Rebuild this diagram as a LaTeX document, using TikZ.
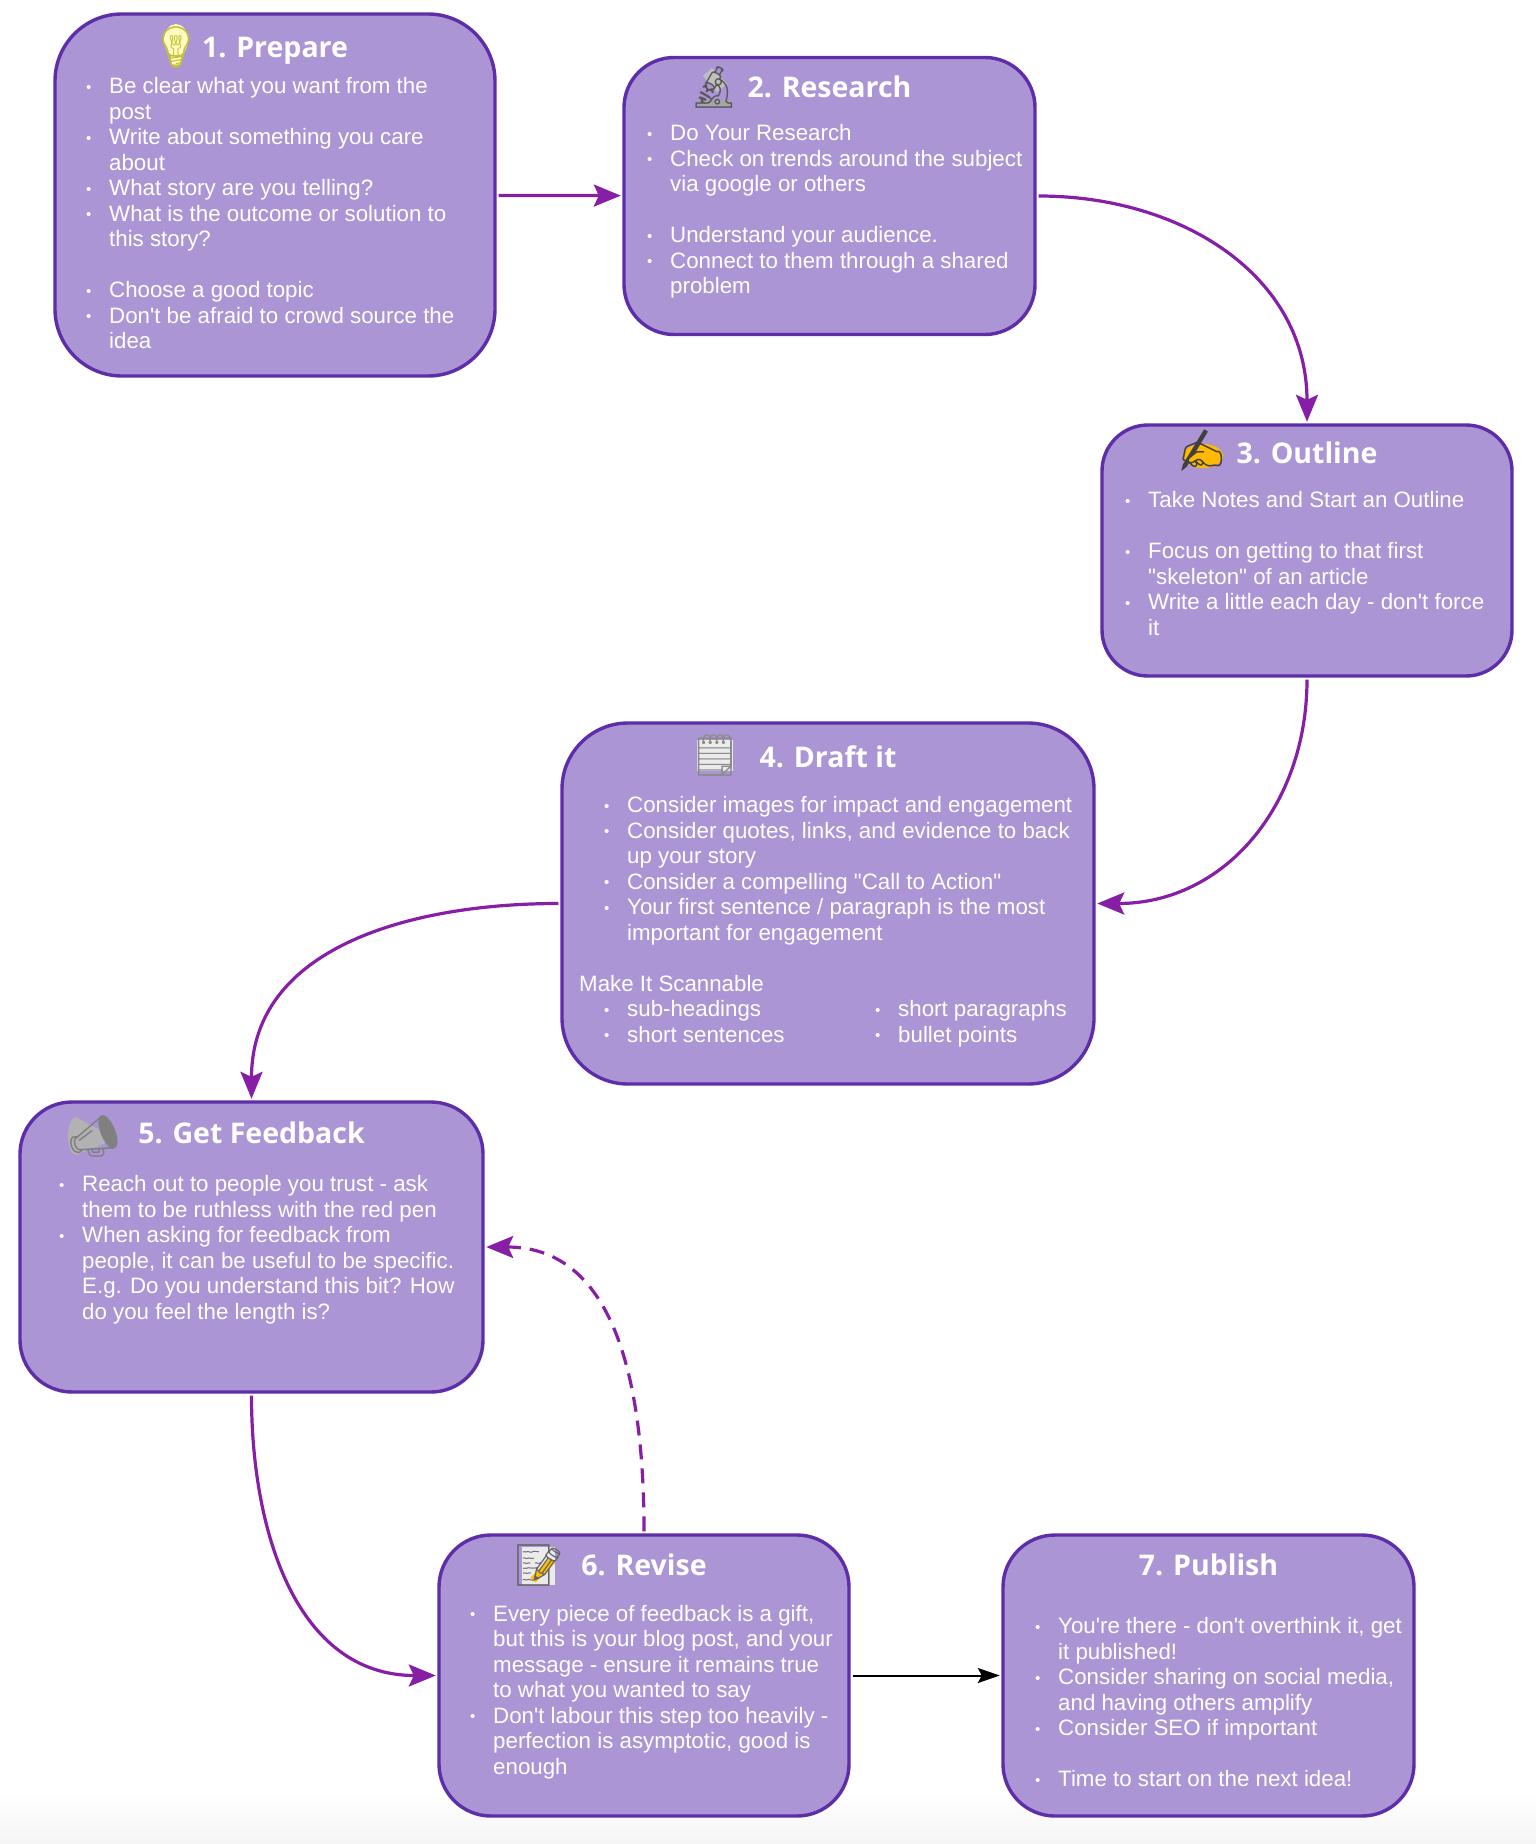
\documentclass[tikz,border=0pt]{standalone}
\usepackage{fontspec}
\newfontfamily\bodyfont{Liberation Sans}
\newfontfamily\headfont{Open Sans}
\newfontfamily\emojifont{Noto Emoji}
\usetikzlibrary{arrows.meta,positioning}
\definecolor{boxfill}{HTML}{AB95D4}
\definecolor{boxedge}{HTML}{5E2DA8}
\definecolor{linkline}{HTML}{861FA6}
\newcommand{\bdot}{\raisebox{1.5pt}{\fontsize{15}{15}\selectfont •}}
\newenvironment{steplist}{\begin{tabular}{@{}p{23pt}@{}l@{}}}{\end{tabular}}
\tikzset{
	stepbox/.style={rectangle,draw=boxedge,fill=boxfill,line width=3.4pt,rounded corners=#1},
	heading/.style={text=white,font=\headfont\bfseries\fontsize{28.5}{32}\selectfont,inner sep=0pt},
	iconmark/.style={font=\emojifont\fontsize{41}{45}\selectfont,inner sep=0pt},
	bodytext/.style={text=white,font=\bodyfont\fontsize{22.3}{25.5}\selectfont,inner sep=0pt,anchor=north west},
	link/.style={draw=linkline,line width=3.2pt,looseness=1.06,shorten <=2pt,shorten >=1.5pt,-{Stealth[length=27pt,width=22pt,inset=5pt]}},
	plainlink/.style={draw=black,line width=2pt,shorten <=2pt,shorten >=1.5pt,-{Stealth[length=22pt,width=15pt,inset=4pt]}}
}
\begin{document}
\begin{tikzpicture}[x=1pt,y=-1pt]
	\useasboundingbox (0,0) rectangle (1536,1844);
	\shade[top color=white,bottom color=black!4] (0,1790) rectangle (1536,1844);
	\node[stepbox=67pt,minimum width=440pt,minimum height=362pt] (box1) at (275,195) {};
	\node[stepbox=50pt,minimum width=411pt,minimum height=277pt] (box2) at (829.5,196) {};
	\node[stepbox=46pt,minimum width=410pt,minimum height=251pt] (box3) at (1307,550.5) {};
	\node[stepbox=66pt,minimum width=532pt,minimum height=361pt] (box4) at (828,903.5) {};
	\node[stepbox=52pt,minimum width=463pt,minimum height=290pt] (box5) at (251.5,1247) {};
	\node[stepbox=52pt,minimum width=410pt,minimum height=281pt] (box6) at (644,1675.5) {};
	\node[stepbox=52pt,minimum width=411pt,minimum height=281pt] (box7) at (1208.5,1675.5) {};
	\node[heading] (head1) at (275,51) {1. Prepare};
	\node[heading] (head2) at (829.5,87) {2. Research};
	\node[heading] (head3) at (1307,453) {3. Outline};
	\node[heading] (head4) at (828,757) {4. Draft it};
	\node[heading] (head5) at (251.5,1133) {5. Get Feedback};
	\node[heading] (head6) at (644,1565) {6. Revise};
	\node[heading] (head7) at (1208.5,1565) {7. Publish};
	\fill[yellow!25] (176,40) ellipse (12 and 16);
	\fill[yellow!25] (170,50) -- (182,50) -- (180,66) -- (172,66) -- cycle;
	\fill[black!25] (703,76) -- (712,68) -- (727,84) -- (717,92) -- cycle;
	\fill[black!35] (700,100) rectangle (730,106);
	\fill[orange!55!yellow] (1203,456) ellipse (20 and 12);
	\fill[black!8] (697,740) rectangle (733,771);
	\fill[black!30] (76,1136) ellipse (8 and 19);
	\fill[black!30] (76,1117) -- (105,1133) -- (105,1143) -- (76,1155) -- cycle;
	\fill[black!8] (522,1547) rectangle (555,1585);
	\draw[orange!50!yellow,line width=7pt] (533,1580) -- (553,1560);
	\node[iconmark,text=yellow!75!black] (icon1) at (176,47) {💡};
	\node[iconmark,text=black!65] (icon2) at (714,87) {🔬};
	\node[iconmark,text=black!75] (icon3) at (1202,450) {✍};
	\node[iconmark,text=black!45] (icon4) at (715,755) {🗒};
	\node[iconmark,text=black!50] (icon5) at (94,1136) {📣};
	\node[iconmark,text=black!60] (icon6) at (539,1565) {📝};
	\node[bodytext] (text1) at (86,75.5) {\begin{steplist}
		\bdot & Be clear what you want from the \\
		& post \\
		\bdot & Write about something you care \\
		& about \\
		\bdot & What story are you telling? \\
		\bdot & What is the outcome or solution to \\
		& this story? \\
		& \\
		\bdot & Choose a good topic \\
		\bdot & Don't be afraid to crowd source the \\
		& idea
	\end{steplist}};
	\node[bodytext] (text2) at (647,122.5) {\begin{steplist}
		\bdot & Do Your Research \\
		\bdot & Check on trends around the subject \\
		& via google or others \\
		& \\
		\bdot & Understand your audience. \\
		\bdot & Connect to them through a shared \\
		& problem
	\end{steplist}};
	\node[bodytext] (text3) at (1125,489.5) {\begin{steplist}
		\bdot & Take Notes and Start an Outline \\
		& \\
		\bdot & Focus on getting to that first \\
		& "skeleton" of an article \\
		\bdot & Write a little each day - don't force \\
		& it
	\end{steplist}};
	\node[bodytext] (text4) at (604,794.5) {\begin{steplist}
		\bdot & Consider images for impact and engagement \\
		\bdot & Consider quotes, links, and evidence to back \\
		& up your story \\
		\bdot & Consider a compelling "Call to Action" \\
		\bdot & Your first sentence / paragraph is the most \\
		& important for engagement
	\end{steplist}};
	\node[bodytext] (scan4) at (579,973) {\begin{tabular}{@{}l@{}}Make It Scannable\end{tabular}};
	\node[bodytext] (cola4) at (604,998.5) {\begin{steplist}
		\bdot & sub-headings \\
		\bdot & short sentences
	\end{steplist}};
	\node[bodytext] (colb4) at (875,998.5) {\begin{steplist}
		\bdot & short paragraphs \\
		\bdot & bullet points
	\end{steplist}};
	\node[bodytext] (text5) at (59,1173.5) {\begin{steplist}
		\bdot & Reach out to people you trust - ask \\
		& them to be ruthless with the red pen \\
		\bdot & When asking for feedback from \\
		& people, it can be useful to be specific. \\
		& E.g. Do you understand this bit? How \\
		& do you feel the length is?
	\end{steplist}};
	\node[bodytext] (text6) at (470,1603) {\begin{steplist}
		\bdot & Every piece of feedback is a gift, \\
		& but this is your blog post, and your \\
		& message - ensure it remains true \\
		& to what you wanted to say \\
		\bdot & Don't labour this step too heavily - \\
		& perfection is asymptotic, good is \\
		& enough
	\end{steplist}};
	\node[bodytext] (text7) at (1035,1615.5) {\begin{steplist}
		\bdot & You're there - don't overthink it, get \\
		& it published! \\
		\bdot & Consider sharing on social media, \\
		& and having others amplify \\
		\bdot & Consider SEO if important \\
		& \\
		\bdot & Time to start on the next idea!
	\end{steplist}};
	\draw[link] (box1) -- (box2);
	\draw[link] (box2.east) to[out=0,in=90] (box3.north);
	\draw[link] (box3.south) to[out=-90,in=0] (box4.east);
	\draw[link] (box4.west) to[out=180,in=90] (box5.north);
	\draw[link] (box5.south) to[out=-90,in=180] (box6.west);
	\draw[link,dash pattern=on 15pt off 9pt] (box6.north) to[out=90,in=0] (box5.east);
	\draw[plainlink] (box6) -- (box7);
\end{tikzpicture}
\end{document}
